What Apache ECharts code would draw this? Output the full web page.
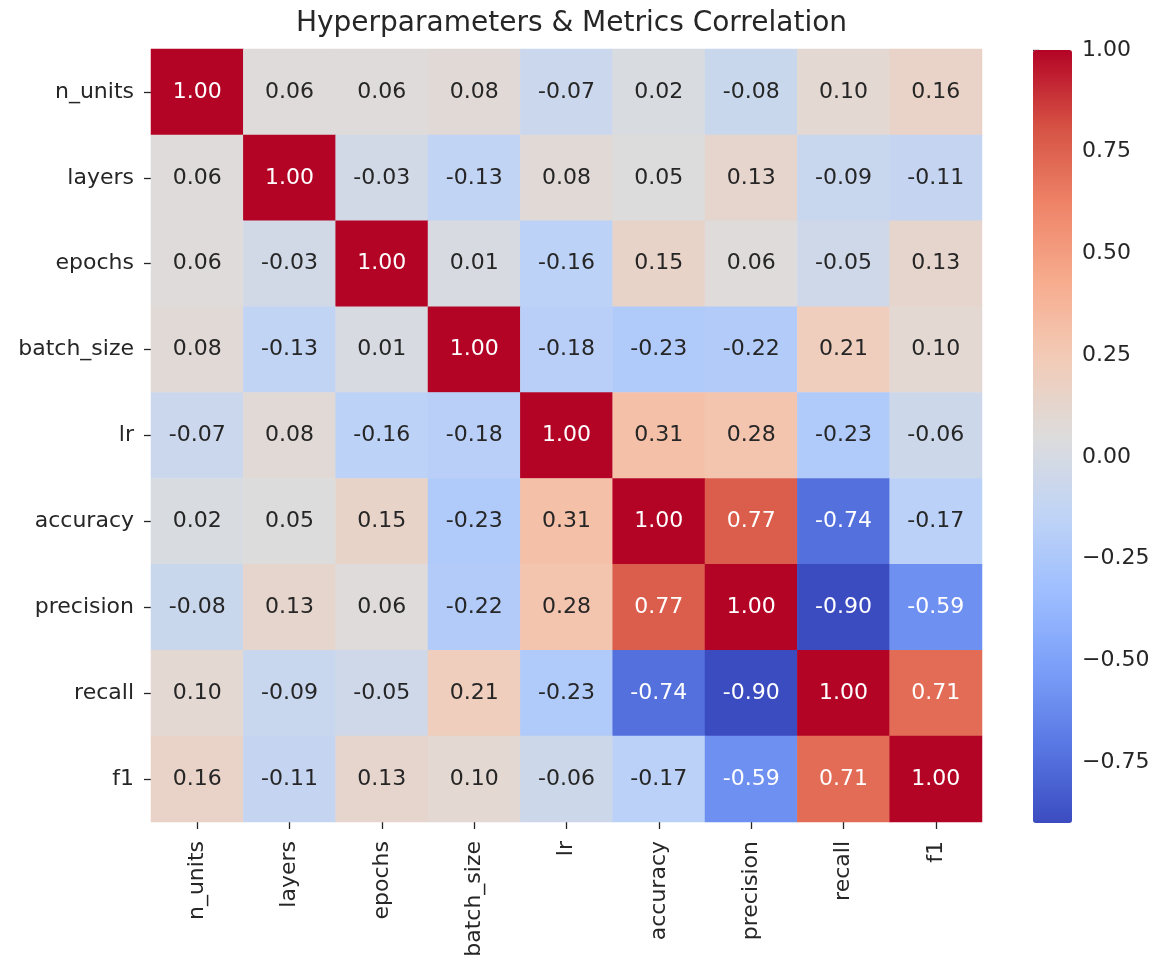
<!DOCTYPE html>
<html>
<head>
<meta charset="utf-8">
<title>Hyperparameters &amp; Metrics Correlation</title>
<script src="https://cdn.jsdelivr.net/npm/echarts@6/dist/echarts.min.js"></script>
<style>
  html, body { margin: 0; padding: 0; background: #ffffff; }
  #chart { width: 1162px; height: 964px; }
</style>
</head>
<body>
<div id="chart"></div>
<script>
// Variables shown on both axes, in matrix order
const variables = ['n_units', 'layers', 'epochs', 'batch_size', 'lr', 'accuracy', 'precision', 'recall', 'f1'];

// Pearson correlation rows, one per variable
const rowNUnits    = [ 1.00,  0.06,  0.06,  0.08, -0.07,  0.02, -0.08,  0.10,  0.16];
const rowLayers    = [ 0.06,  1.00, -0.03, -0.13,  0.08,  0.05,  0.13, -0.09, -0.11];
const rowEpochs    = [ 0.06, -0.03,  1.00,  0.01, -0.16,  0.15,  0.06, -0.05,  0.13];
const rowBatchSize = [ 0.08, -0.13,  0.01,  1.00, -0.18, -0.23, -0.22,  0.21,  0.10];
const rowLr        = [-0.07,  0.08, -0.16, -0.18,  1.00,  0.31,  0.28, -0.23, -0.06];
const rowAccuracy  = [ 0.02,  0.05,  0.15, -0.23,  0.31,  1.00,  0.77, -0.74, -0.17];
const rowPrecision = [-0.08,  0.13,  0.06, -0.22,  0.28,  0.77,  1.00, -0.90, -0.59];
const rowRecall    = [ 0.10, -0.09, -0.05,  0.21, -0.23, -0.74, -0.90,  1.00,  0.71];
const rowF1        = [ 0.16, -0.11,  0.13,  0.10, -0.06, -0.17, -0.59,  0.71,  1.00];

// Colour bar tick values
const colorbarTicks = [-0.75, -0.50, -0.25, 0.00, 0.25, 0.50, 0.75, 1.00];

const matrix = [rowNUnits, rowLayers, rowEpochs, rowBatchSize, rowLr, rowAccuracy, rowPrecision, rowRecall, rowF1];
const allValues = matrix.flat();
const vMin = Math.min(...allValues);
const vMax = Math.max(...allValues);

// Diverging blue-grey-red ramp (coolwarm), evenly spaced stops
const coolwarm = ['#3b4cc0', '#5977e3', '#7b9ff9', '#9ebeff', '#c0d4f5', '#dddcdc',
                  '#f2cbb7', '#f7ac8e', '#ee8468', '#d65244', '#b40426'];

function hexToRgb(h) {
  return [parseInt(h.slice(1, 3), 16), parseInt(h.slice(3, 5), 16), parseInt(h.slice(5, 7), 16)];
}
function rampColor(v) {
  const t = Math.max(0, Math.min(1, (v - vMin) / (vMax - vMin))) * (coolwarm.length - 1);
  const i = Math.min(Math.floor(t), coolwarm.length - 2);
  const f = t - i;
  const a = hexToRgb(coolwarm[i]), b = hexToRgb(coolwarm[i + 1]);
  return a.map((c, k) => c + (b[k] - c) * f);
}
// Relative luminance decides dark or light annotation text
function luminance(rgb) {
  const lin = rgb.map(c => {
    c = c / 255;
    return c <= 0.03928 ? c / 12.92 : Math.pow((c + 0.055) / 1.055, 2.4);
  });
  return 0.2126 * lin[0] + 0.7152 * lin[1] + 0.0722 * lin[2];
}

const cells = [];
matrix.forEach((row, r) => {
  row.forEach((v, c) => {
    cells.push({
      value: [c, r, v],
      label: { color: luminance(rampColor(v)) > 0.408 ? '#262626' : '#ffffff' }
    });
  });
});

const FONT = 'DejaVu Sans';
const TEXT = '#262626';

const chart = echarts.init(document.getElementById('chart'), null, { renderer: 'canvas' });

const gridLeft = 151, gridTop = 49, gridW = 831, gridH = 773;
const barLeft = 1033, barTop = 50, barW = 39, barH = 773;

chart.setOption({
  backgroundColor: '#ffffff',
  animation: false,
  title: {
    text: 'Hyperparameters & Metrics Correlation',
    left: gridLeft + gridW / 2,
    textAlign: 'center',
    top: 5,
    textStyle: { fontFamily: FONT, fontSize: 28, fontWeight: 'normal', color: TEXT }
  },
  grid: [
    { left: gridLeft, top: gridTop, width: gridW, height: gridH },
    { left: barLeft, top: barTop, width: barW, height: barH }
  ],
  xAxis: [
    {
      type: 'category',
      gridIndex: 0,
      data: variables,
      position: 'bottom',
      axisLine: { show: false },
      axisTick: { show: true, alignWithLabel: true, length: 7, lineStyle: { color: TEXT, width: 1.3 } },
      axisLabel: { rotate: 90, margin: 19, fontFamily: FONT, fontSize: 22, color: TEXT },
      splitLine: { show: false },
      splitArea: { show: false }
    },
    {
      type: 'value',
      gridIndex: 1,
      show: false,
      min: 0,
      max: 1
    }
  ],
  yAxis: [
    {
      type: 'category',
      gridIndex: 0,
      data: variables,
      inverse: true,
      axisLine: { show: false },
      axisTick: { show: true, alignWithLabel: true, length: 7, lineStyle: { color: TEXT, width: 1.3 } },
      axisLabel: { margin: 17, fontFamily: FONT, fontSize: 22, color: TEXT },
      splitLine: { show: false },
      splitArea: { show: false }
    },
    {
      type: 'value',
      gridIndex: 1,
      position: 'right',
      min: vMin,
      max: vMax,
      axisLine: { show: false },
      splitLine: { show: false },
      axisTick: { show: true, length: 6, customValues: colorbarTicks, lineStyle: { color: TEXT, width: 1.3 } },
      axisLabel: {
        show: true,
        margin: 10,
        customValues: colorbarTicks,
        fontFamily: FONT,
        fontSize: 22,
        color: TEXT,
        formatter: v => (v < 0 ? '\u2212' : '') + Math.abs(v).toFixed(2)
      }
    }
  ],
  visualMap: {
    type: 'continuous',
    seriesIndex: 0,
    min: vMin,
    max: vMax,
    calculable: false,
    orient: 'vertical',
    left: barLeft,
    top: barTop,
    itemWidth: barW,
    itemHeight: barH,
    padding: 0,
    text: null,
    showLabel: false,
    inRange: { color: coolwarm }
  },
  series: [
    {
      type: 'heatmap',
      xAxisIndex: 0,
      yAxisIndex: 0,
      data: cells,
      label: {
        show: true,
        fontFamily: FONT,
        fontSize: 22,
        formatter: p => p.value[2].toFixed(2)
      },
      itemStyle: { borderWidth: 0 },
      emphasis: { disabled: true }
    },
    {
      type: 'line',
      xAxisIndex: 1,
      yAxisIndex: 1,
      data: [],
      silent: true
    }
  ]
});
</script>
</body>
</html>
